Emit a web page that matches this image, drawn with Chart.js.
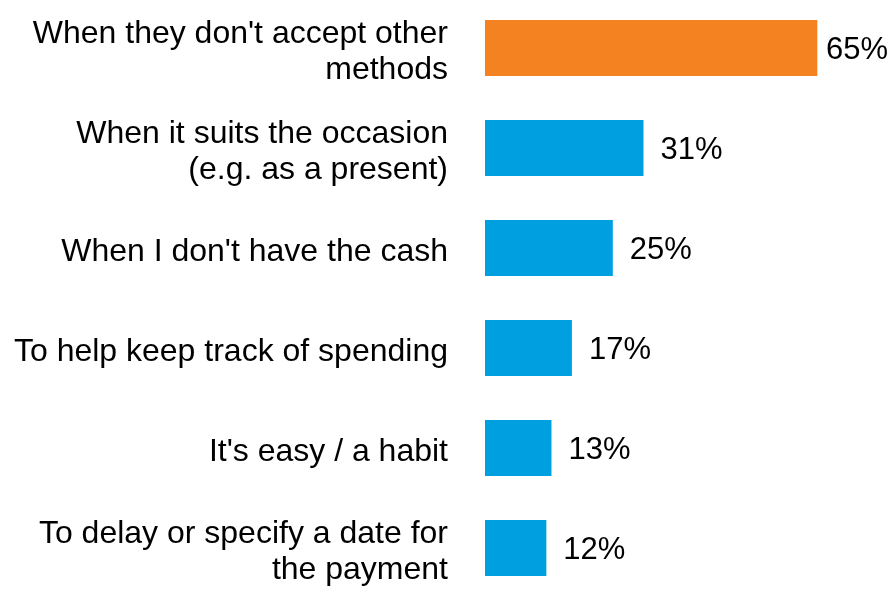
<!DOCTYPE html>
<html>
<head>
<meta charset="utf-8">
<script src="https://cdn.jsdelivr.net/npm/chart.js@4"></script>
<style>
  html, body { margin: 0; padding: 0; background: #fff; overflow: hidden; }
  #wrap { position: absolute; left: 0; top: -2px; width: 894px; height: 600px; }
</style>
</head>
<body>
<div id="wrap"><canvas id="reasonsChart"></canvas></div>
<script>
// Reasons for paying this way (share of respondents, %)
const reasons = [
  ['When they don\'t accept other', 'methods'],
  ['When it suits the occasion', '(e.g. as a present)'],
  'When I don\'t have the cash',
  'To help keep track of spending',
  'It\'s easy / a habit',
  ['To delay or specify a date for', 'the payment']
];
const shares = [65, 31, 25, 17, 13, 12];
const barColors = ['#F58220', '#009FDF', '#009FDF', '#009FDF', '#009FDF', '#009FDF'];

const FONT = 'Arial, "Liberation Sans", sans-serif';

// Writes "NN%" to the right of each bar
const valueLabels = {
  id: 'valueLabels',
  afterDatasetsDraw(chart) {
    const ctx = chart.ctx;
    const meta = chart.getDatasetMeta(0);
    ctx.save();
    ctx.font = '31px ' + FONT;
    ctx.fillStyle = '#000';
    ctx.textBaseline = 'middle';
    meta.data.forEach((bar, i) => {
      const text = shares[i] + '%';
      const w = ctx.measureText(text).width;
      let x = bar.x + 17;
      if (x + w > chart.width - 6) x = chart.width - 6 - w;
      ctx.fillText(text, x, bar.y + 2);
    });
    ctx.restore();
  }
};

new Chart(document.getElementById('reasonsChart'), {
  type: 'bar',
  data: {
    labels: reasons,
    datasets: [{
      data: shares,
      backgroundColor: barColors,
      borderWidth: 0,
      categoryPercentage: 0.56,
      barPercentage: 1
    }]
  },
  options: {
    indexAxis: 'y',
    responsive: true,
    maintainAspectRatio: false,
    animation: false,
    layout: { padding: 0 },
    plugins: { legend: { display: false }, tooltip: { enabled: false } },
    scales: {
      x: {
        min: 0,
        max: 80,
        display: false
      },
      y: {
        grid: { display: false, drawTicks: false },
        border: { display: false },
        ticks: {
          color: '#000',
          padding: 37,
          labelOffset: 4,
          autoSkip: false,
          font: { family: FONT, size: 32, lineHeight: 1.11 }
        },
        afterFit(scale) {
          scale.width = 485;
          // let the category bands fill the full height
          scale.paddingTop = 0;
          scale.paddingBottom = 0;
        }
      }
    }
  },
  plugins: [valueLabels]
});
</script>
</body>
</html>
